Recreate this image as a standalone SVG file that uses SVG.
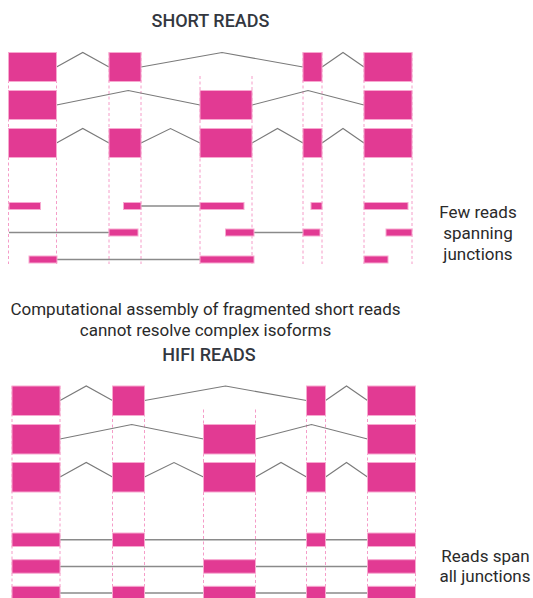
<svg xmlns="http://www.w3.org/2000/svg" width="533" height="598" viewBox="0 0 533 598">
<style>
.ex{fill:#e23a93;stroke:#f7a9d0;stroke-width:1}
.dash{stroke:#f59cc8;stroke-width:1;stroke-dasharray:3 2.5;fill:none}
.intron{stroke:#7a7a7a;stroke-width:1.1;fill:none}
.link{stroke:#8a8a8a;stroke-width:1.4;fill:none}
.title{font-family:Roboto,"Liberation Sans",sans-serif;font-weight:500;font-size:18px;fill:#333740;text-anchor:middle}
.txt{font-family:Roboto,"Liberation Sans",sans-serif;font-size:17px;fill:#2a2a2a;text-anchor:middle}
</style>
<rect width="533" height="598" fill="#ffffff"/>

<!-- dashed guides -->
<g id="guides">
  <path class="dash" d="M8.5 52.5V264M56.5 52.5V264M109 52.5V264M141 52.5V264M200 76V264M252 76V264M303 52.5V264M322 52.5V264M364 52.5V264M412 52.5V264"/>
  <path class="dash" d="M12 386V598M60 386V598M112.5 386V598M144.5 386V598M203.5 409.5V598M255.5 409.5V598M306.5 386V598M325.5 386V598M367.5 386V598M415.5 386V598"/>
</g>

<!-- connectors -->
<g id="connectors">
  <polyline class="intron" points="56.5,67 82.75,52.5 109,67"/>
  <polyline class="intron" points="141,67 222,52.5 303,67"/>
  <polyline class="intron" points="322,67 343,52.5 364,67"/>
  <polyline class="intron" points="56.5,105 128.25,90.5 200,105"/>
  <polyline class="intron" points="252,105 308,90.5 364,105"/>
  <polyline class="intron" points="56.5,143 82.75,128.5 109,143"/>
  <polyline class="intron" points="141,143 170.5,128.5 200,143"/>
  <polyline class="intron" points="252,143 277.5,128.5 303,143"/>
  <polyline class="intron" points="322,143 343,128.5 364,143"/>
  <path class="link" d="M141 206H200M9 232.5H109M254 232.5H303M57 259.5H200"/>

  <polyline class="intron" points="60,400.5 86.25,386 112.5,400.5"/>
  <polyline class="intron" points="144.5,400.5 225.5,386 306.5,400.5"/>
  <polyline class="intron" points="325.5,400.5 346.5,386 367.5,400.5"/>
  <polyline class="intron" points="60,439 131.75,424.5 203.5,439"/>
  <polyline class="intron" points="255.5,439 311.5,424.5 367.5,439"/>
  <polyline class="intron" points="60,477 86.25,462.5 112.5,477"/>
  <polyline class="intron" points="144.5,477 174,462.5 203.5,477"/>
  <polyline class="intron" points="255.5,477 281,462.5 306.5,477"/>
  <polyline class="intron" points="325.5,477 346.5,462.5 367.5,477"/>
  <path class="link" d="M60 539.8H367.5M60 566.5H367.5M60 593H367.5"/>
</g>

<!-- short reads isoforms -->
<g id="short-isoform1">
  <rect class="ex" x="8.5" y="52.5" width="48" height="29"/>
  <rect class="ex" x="109" y="52.5" width="32" height="29"/>
  <rect class="ex" x="303" y="52.5" width="19" height="29"/>
  <rect class="ex" x="364" y="52.5" width="48" height="29"/>
</g>
<g id="short-isoform2">
  <rect class="ex" x="8.5" y="90.5" width="48" height="29"/>
  <rect class="ex" x="200" y="90.5" width="52" height="29"/>
  <rect class="ex" x="364" y="90.5" width="48" height="29"/>
</g>
<g id="short-isoform3">
  <rect class="ex" x="8.5" y="128.5" width="48" height="29"/>
  <rect class="ex" x="109" y="128.5" width="32" height="29"/>
  <rect class="ex" x="200" y="128.5" width="52" height="29"/>
  <rect class="ex" x="303" y="128.5" width="19" height="29"/>
  <rect class="ex" x="364" y="128.5" width="48" height="29"/>
</g>
<g id="short-reads">
  <rect class="ex" x="9" y="202.5" width="31.5" height="7"/>
  <rect class="ex" x="123.5" y="202.5" width="17.5" height="7"/>
  <rect class="ex" x="200" y="202.5" width="44" height="7"/>
  <rect class="ex" x="311" y="202.5" width="11" height="7"/>
  <rect class="ex" x="364" y="202.5" width="44" height="7"/>
  <rect class="ex" x="109" y="229" width="29" height="7"/>
  <rect class="ex" x="225.5" y="229" width="28.5" height="7"/>
  <rect class="ex" x="303" y="229" width="17" height="7"/>
  <rect class="ex" x="386" y="229" width="26" height="7"/>
  <rect class="ex" x="29" y="256" width="28" height="7"/>
  <rect class="ex" x="200" y="256" width="54" height="7"/>
  <rect class="ex" x="364" y="256" width="24" height="7"/>
</g>

<!-- hifi isoforms -->
<g id="hifi-isoform1">
  <rect class="ex" x="12" y="386" width="48" height="29.5"/>
  <rect class="ex" x="112.5" y="386" width="32" height="29.5"/>
  <rect class="ex" x="306.5" y="386" width="19" height="29.5"/>
  <rect class="ex" x="367.5" y="386" width="48" height="29.5"/>
</g>
<g id="hifi-isoform2">
  <rect class="ex" x="12" y="424.5" width="48" height="29.5"/>
  <rect class="ex" x="203.5" y="424.5" width="52" height="29.5"/>
  <rect class="ex" x="367.5" y="424.5" width="48" height="29.5"/>
</g>
<g id="hifi-isoform3">
  <rect class="ex" x="12" y="462.5" width="48" height="29.5"/>
  <rect class="ex" x="112.5" y="462.5" width="32" height="29.5"/>
  <rect class="ex" x="203.5" y="462.5" width="52" height="29.5"/>
  <rect class="ex" x="306.5" y="462.5" width="19" height="29.5"/>
  <rect class="ex" x="367.5" y="462.5" width="48" height="29.5"/>
</g>
<g id="hifi-reads">
  <rect class="ex" x="12" y="533" width="48" height="13.5"/>
  <rect class="ex" x="112.5" y="533" width="32" height="13.5"/>
  <rect class="ex" x="306.5" y="533" width="19" height="13.5"/>
  <rect class="ex" x="367.5" y="533" width="48" height="13.5"/>
  <rect class="ex" x="12" y="559.7" width="48" height="13.5"/>
  <rect class="ex" x="203.5" y="559.7" width="52" height="13.5"/>
  <rect class="ex" x="367.5" y="559.7" width="48" height="13.5"/>
  <rect class="ex" x="12" y="586.3" width="48" height="13.5"/>
  <rect class="ex" x="112.5" y="586.3" width="32" height="13.5"/>
  <rect class="ex" x="203.5" y="586.3" width="52" height="13.5"/>
  <rect class="ex" x="306.5" y="586.3" width="19" height="13.5"/>
  <rect class="ex" x="367.5" y="586.3" width="48" height="13.5"/>
</g>

<!-- labels -->
<g id="labels">
  <text class="title" x="210.5" y="26.7">SHORT READS</text>
  <text class="txt" x="478" y="218.3">Few reads</text>
  <text class="txt" x="478" y="239">spanning</text>
  <text class="txt" x="478" y="259.5">junctions</text>
  <text class="txt" x="205.5" y="315">Computational assembly of fragmented short reads</text>
  <text class="txt" x="205.5" y="335.5">cannot resolve complex isoforms</text>
  <text class="title" x="209" y="360.7">HIFI READS</text>
  <text class="txt" x="485.5" y="562">Reads span</text>
  <text class="txt" x="485" y="582">all junctions</text>
</g>
</svg>
